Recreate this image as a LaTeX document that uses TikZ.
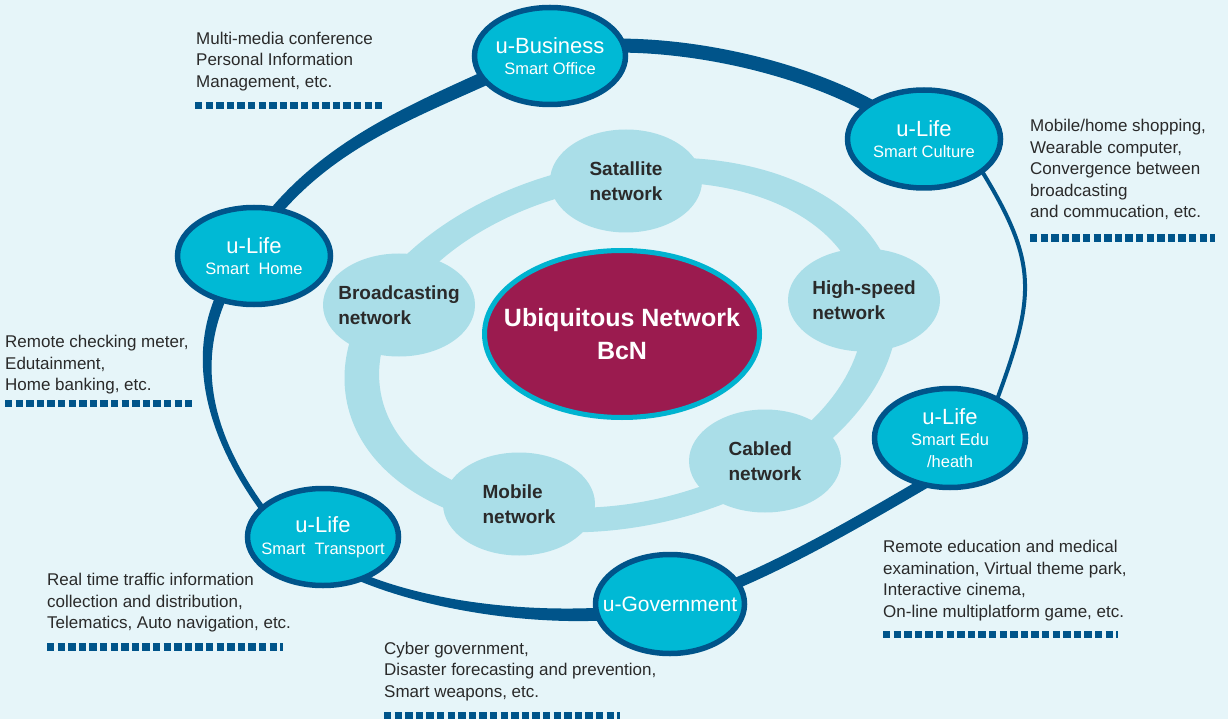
\documentclass[tikz,border=0pt]{standalone}
\usepackage{fontspec}
\setmainfont{Liberation Sans}
\usetikzlibrary{shapes.geometric}
\definecolor{bgc}{HTML}{E6F5F9}
\definecolor{ringc}{HTML}{AADEE8}
\definecolor{ufill}{HTML}{00B9D5}
\definecolor{darkb}{HTML}{00548A}
\definecolor{maroonc}{HTML}{9B1B4F}
\definecolor{cborder}{HTML}{00B3D0}
\definecolor{txt}{HTML}{2A2A2A}
\newcommand{\ttlline}[1]{{\fontsize{22}{21.5}\selectfont #1}}
\tikzset{
  unode/.style={ellipse, draw=darkb, line width=5.5pt, fill=ufill, inner sep=0pt,
                minimum width=151pt, minimum height=97pt},
  utext/.style={text=white, align=center, inner sep=0pt,
                font=\fontsize{16.5}{21.5}\selectfont},
  nnode/.style={ellipse, fill=ringc, inner sep=0pt, minimum width=152pt, minimum height=103pt},
  ntext/.style={text=txt, align=left, inner sep=0pt, font=\bfseries\fontsize{19}{25}\selectfont},
  ctext/.style={text=white, align=center, inner sep=0pt, font=\bfseries\fontsize{25}{33}\selectfont},
  desc/.style={text=txt, align=left, inner sep=0pt, anchor=north west,
               font=\fontsize{17}{21.5}\selectfont},
  dashbar/.style={draw=darkb, line width=7.5pt, dash pattern=on 7.3pt off 3.3pt},
  ringseg/.style={draw=darkb, line cap=round},
  ringband/.style={fill=darkb},
}
\begin{document}
\begin{tikzpicture}[x=1pt,y=-1pt]
\useasboundingbox (0,0) rectangle (1228,719);
\fill[bgc] (0,0) rectangle (1228,719);

% inner light ring (band between two tilted ellipses)
\fill[ringc, even odd rule, rotate around={12:(621,345)}]
  (621,345) ellipse [x radius=280, y radius=182]
  (621,345) ellipse [x radius=245, y radius=158];

% outer dark ring, segment by segment
% Smart Home -> u-Business (tapered)
\fill[ringband] (279.2,215.6) .. controls (337.2,147.6) and (410.9,119.4) .. (492.9,82.4)
  -- (487.1,69.6) .. controls (405.1,106.6) and (328.8,140.4) .. (270.8,208.4) -- cycle;
% u-Business -> Smart Culture
\draw[ringseg, line width=14pt] (600,46) .. controls (690,42) and (805,68) .. (880,112);
% Smart Culture -> Smart Edu
\draw[ringseg, line width=4pt] (975,160) .. controls (1039,262) and (1037,292) .. (995,405);
% Smart Edu -> u-Government
\draw[ringseg, line width=11pt] (930,480) .. controls (865,518) and (790,562) .. (720,590);
% u-Government -> Smart Transport (tapered)
\fill[ringband] (619.5,606.5) .. controls (529.5,613.5) and (431.5,602.3) .. (361.5,573.3)
  -- (358.5,580.7) .. controls (428.5,609.7) and (530.5,626.5) .. (620.5,619.5) -- cycle;
% Smart Transport -> Smart Home (tapered)
\fill[ringband] (264.4,506.2) .. controls (217.4,441.2) and (194,370.3) .. (227,297.3)
  -- (217,292.7) .. controls (184,365.7) and (212.6,444.8) .. (259.6,509.8) -- cycle;

% inner network nodes
\node[nnode, label={[ntext]center:{Satallite\\network}}] (sat) at (626,181) {};
\node[nnode, label={[ntext]center:{High-speed\\network}}] (high) at (864,300) {};
\node[nnode, label={[ntext]center:{Cabled\\network}}] (cab) at (765,461) {};
\node[nnode, label={[ntext]center:{Mobile\\network}}] (mob) at (519,504) {};
\node[nnode, label={[ntext]center:{Broadcasting\\network}}] (bro) at (399,305) {};

% centre
\node[ellipse, draw=cborder, line width=5pt, fill=maroonc, inner sep=0pt,
      minimum width=275pt, minimum height=167pt,
      label={[ctext]center:{Ubiquitous Network\\BcN}}] (core) at (622,334) {};

% outer service nodes
\node[unode, label={[utext]center:{\ttlline{u-Business}\\Smart Office}}] (biz) at (550,56) {};
\node[unode, minimum width=153pt, minimum height=98pt,
      label={[utext]center:{\ttlline{u-Life}\\Smart Culture}}] (cul) at (924,139) {};
\node[unode, minimum width=153pt,
      label={[utext]center:{\ttlline{u-Life}\\Smart~~Home}}] (home) at (254,256) {};
\node[unode, label={[utext]center:{\ttlline{u-Life}\\Smart~~Transport}}] (tra) at (323,537) {};
\node[unode, minimum width=149pt, minimum height=99pt,
      label={[utext, font=\fontsize{21}{21.5}\selectfont]center:{u-Government}}] (gov) at (670,604) {};
\node[unode, minimum height=99pt,
      label={[utext]center:{\ttlline{u-Life}\\Smart Edu\\/heath}}] (edu) at (950,438) {};

% descriptions
\node[desc] (dbiz) at (196,31.5) {Multi-media conference\\Personal Information\\Management, etc.};
\node[desc] (dcul) at (1030,119) {Mobile/home shopping,\\Wearable computer,\\Convergence between\\broadcasting\\and commucation, etc.};
\node[desc] (dhome) at (5,335) {Remote checking meter,\\Edutainment,\\Home banking, etc.};
\node[desc] (dtra) at (47,573) {Real time traffic information\\collection and distribution,\\Telematics, Auto navigation, etc.};
\node[desc] (dgov) at (384,641.5) {Cyber government,\\Disaster forecasting and prevention,\\Smart weapons, etc.};
\node[desc] (dedu) at (883,540) {Remote education and medical\\examination, Virtual theme park,\\Interactive cinema,\\On-line multiplatform game, etc.};

% dotted bars
\draw[dashbar] (195,105.5) -- (382,105.5);
\draw[dashbar] (1030,238) -- (1215,238);
\draw[dashbar] (5,403.5) -- (192,403.5);
\draw[dashbar] (47,647) -- (283,647);
\draw[dashbar] (384,715.5) -- (620,715.5);
\draw[dashbar] (883,634.5) -- (1118,634.5);
\end{tikzpicture}
\end{document}
